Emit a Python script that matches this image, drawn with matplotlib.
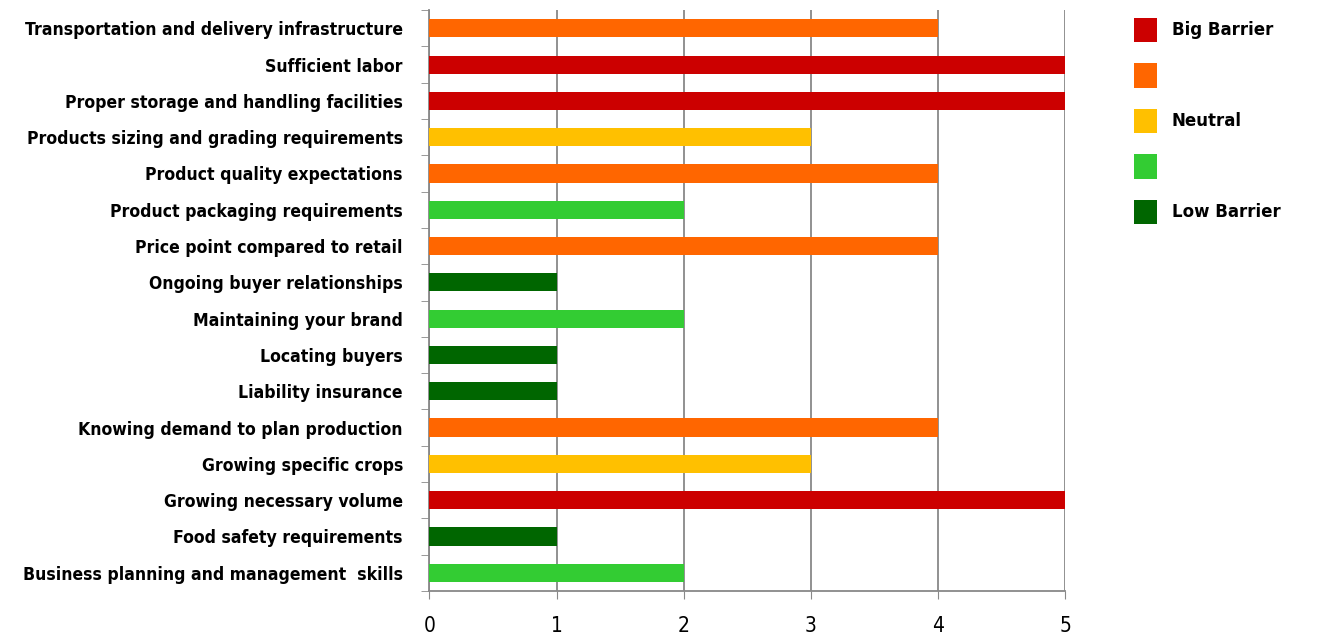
import matplotlib
matplotlib.use("Agg")
import matplotlib.pyplot as plt
from matplotlib.patches import Patch
from matplotlib.ticker import FixedLocator

# categories top to bottom
categories = [
    "Transportation and delivery infrastructure",
    "Sufficient labor",
    "Proper storage and handling facilities",
    "Products sizing and grading requirements",
    "Product quality expectations",
    "Product packaging requirements",
    "Price point compared to retail",
    "Ongoing buyer relationships",
    "Maintaining your brand",
    "Locating buyers",
    "Liability insurance",
    "Knowing demand to plan production",
    "Growing specific crops",
    "Growing necessary volume",
    "Food safety requirements",
    "Business planning and management  skills",
]
scores = [4, 5, 5, 3, 4, 2, 4, 1, 2, 1, 1, 4, 3, 5, 1, 2]

level_colors = {5: "#CC0000", 4: "#FF6600", 3: "#FFC000", 2: "#33CC33", 1: "#006600"}
legend_levels = [5, 4, 3, 2, 1]
legend_labels = ["Big Barrier", "", "Neutral", "", "Low Barrier"]
x_ticks = [0, 1, 2, 3, 4, 5]

fig = plt.figure(figsize=(13.17, 6.34), dpi=100)
ax = fig.add_axes([0.326, 0.068, 0.483, 0.916])

n = len(categories)
ypos = list(range(n - 1, -1, -1))
ax.barh(ypos, scores, height=0.5, color=[level_colors[s] for s in scores], zorder=3)

ax.set_xlim(0, 5)
ax.set_ylim(-0.5, n - 0.5)
ax.set_xticks(x_ticks)
ax.set_xticklabels([str(t) for t in x_ticks], family="DejaVu Sans", stretch="condensed", fontsize=15)
ax.set_yticks(ypos)
ax.set_yticklabels(categories, family="DejaVu Sans", stretch="condensed", fontsize=12.6, fontweight="bold")
ax.tick_params(axis="y", length=0, pad=19)
ax.yaxis.set_minor_locator(FixedLocator([i - 0.5 for i in range(n + 1)]))
ax.tick_params(axis="y", which="minor", length=6, color="#888888")
ax.tick_params(axis="x", length=6, color="#888888", pad=12)

ax.grid(axis="x", color="#888888", linewidth=1.3, zorder=0)
for side in ["top", "right"]:
    ax.spines[side].set_visible(False)
for side in ["left", "bottom"]:
    ax.spines[side].set_color("#888888")
    ax.spines[side].set_linewidth(1.3)

handles = [Patch(facecolor=level_colors[l], edgecolor="none") for l in legend_levels]
fig.legend(handles, legend_labels, loc="upper left", bbox_to_anchor=(0.85, 0.996),
           frameon=False, handlelength=1.35, handleheight=1.9, labelspacing=1.25,
           handletextpad=0.9, prop={"family": "DejaVu Sans", "weight": "bold", "size": 12})

fig.savefig("out.png", dpi=100)
